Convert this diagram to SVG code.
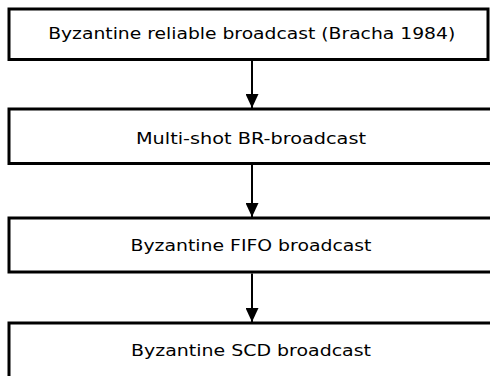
<svg xmlns="http://www.w3.org/2000/svg" width="490" height="376" viewBox="0 0 490 376">
<style>
.box{fill:#fff;stroke:#000;stroke-width:3}
.lbl{font-family:"DejaVu Sans","Liberation Sans",sans-serif;font-size:16.5px;fill:#000;text-anchor:middle}
.conn{stroke:#000;stroke-width:2;fill:none}
</style>
<defs>
<marker id="ah" viewBox="0 0 14 13" refX="14" refY="6.5" markerWidth="14" markerHeight="13" markerUnits="userSpaceOnUse" orient="auto">
<path d="M0,0 L14,6.5 L0,13 Z" fill="#000"/>
</marker>
</defs>
<rect width="490" height="376" fill="#fff"/>
<g id="n1"><rect class="box" x="9" y="9" width="479" height="50.5"/><text class="lbl" x="251.7" y="38.5" textLength="407" lengthAdjust="spacingAndGlyphs">Byzantine reliable broadcast (Bracha 1984)</text></g>
<g id="n2"><rect class="box" x="9" y="109" width="490" height="54.5"/><text class="lbl" x="251" y="144" textLength="230" lengthAdjust="spacingAndGlyphs">Multi-shot BR-broadcast</text></g>
<g id="n3"><rect class="box" x="9" y="218" width="490" height="54"/><text class="lbl" x="251" y="251" textLength="241" lengthAdjust="spacingAndGlyphs">Byzantine FIFO broadcast</text></g>
<g id="n4"><rect class="box" x="9" y="323" width="490" height="60"/><text class="lbl" x="251" y="356" textLength="240" lengthAdjust="spacingAndGlyphs">Byzantine SCD broadcast</text></g>
<g id="connectors">
<line class="conn" x1="252" y1="60.5" x2="252" y2="108" marker-end="url(#ah)"/>
<line class="conn" x1="252" y1="165" x2="252" y2="217" marker-end="url(#ah)"/>
<line class="conn" x1="252" y1="273.5" x2="252" y2="322" marker-end="url(#ah)"/>
</g>
</svg>
